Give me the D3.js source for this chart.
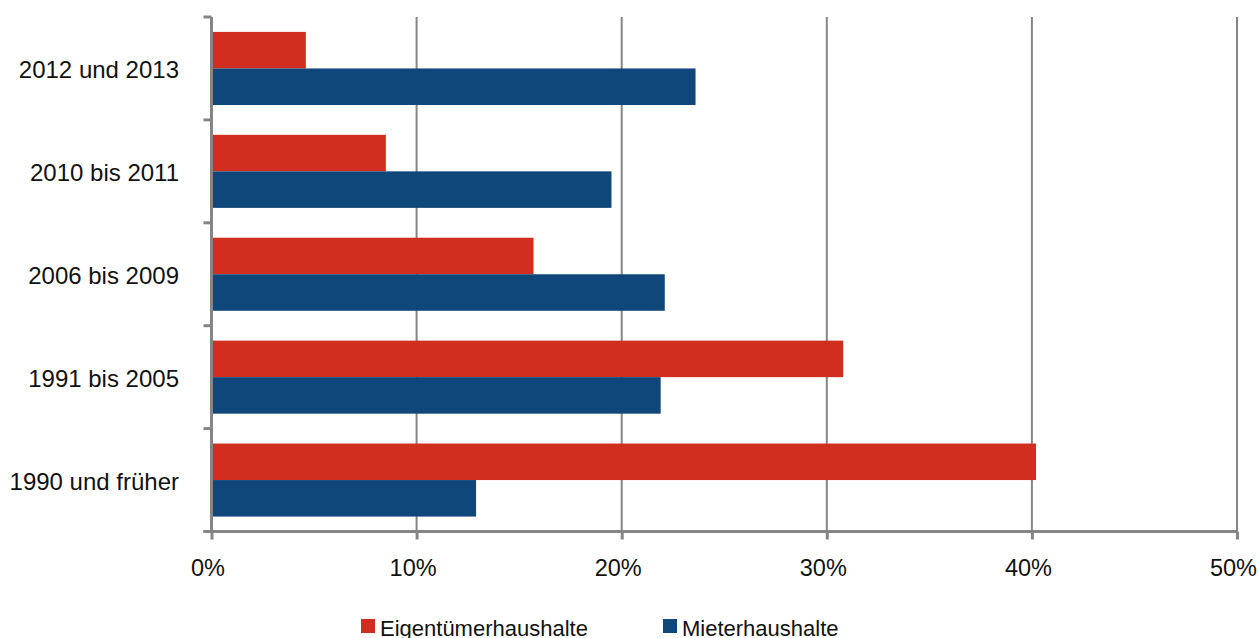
<!DOCTYPE html>
<html><head><meta charset="utf-8">
<script src="https://cdn.jsdelivr.net/npm/d3@7"></script>
<style>body{margin:0;background:#fff}svg{display:block}text{font-family:"Liberation Sans",Arial,sans-serif;fill:#111}</style>
</head><body>
<svg id="c" width="1259" height="638"></svg>
<script>
const categories = ["2012 und 2013","2010 bis 2011","2006 bis 2009","1991 bis 2005","1990 und früher"];
const seriesNames = ["Eigentümerhaushalte","Mieterhaushalte"];
const eigentuemer = [4.6, 8.5, 15.7, 30.8, 40.2];
const mieter = [23.6, 19.5, 22.1, 21.9, 12.9];
const xTicks = [0,10,20,30,40,50];
const colors = ["#D22E1F","#0F477B"];

const svg = d3.select("#c");
const L = 211.5, R = 1237, T = 17, B = 531.5;
const x = d3.scaleLinear().domain([0,50]).range([L,R]);
const y = d3.scaleBand().domain(categories).range([T,B]).paddingInner(0.29).paddingOuter(0.145);
const sub = d3.scaleBand().domain(seriesNames).range([0,y.bandwidth()]);
const grid = "#858585";

// gridlines
svg.append("g").selectAll("line").data(xTicks.slice(1)).join("line")
  .attr("x1",d=>x(d)).attr("x2",d=>x(d)).attr("y1",T).attr("y2",B)
  .attr("stroke",grid).attr("stroke-width",2);

// bars
const data = categories.map((c,i)=>({c, vals:[eigentuemer[i], mieter[i]]}));
const g = svg.append("g");
data.forEach(d=>{
  d.vals.forEach((v,j)=>{
    g.append("rect").attr("x",x(0)).attr("y",y(d.c)+sub(seriesNames[j]))
     .attr("width",x(v)-x(0)).attr("height",sub.bandwidth()).attr("fill",colors[j]);
  });
});

// x axis
const xa = svg.append("g").attr("transform",`translate(0,${B})`)
  .call(d3.axisBottom(x).tickValues(xTicks).tickFormat(d=>d+"%").tickSize(8).tickSizeOuter(0).tickPadding(20));
xa.select(".domain").attr("stroke",grid).attr("stroke-width",3).attr("d",`M${L-8},0H${R}`);
xa.selectAll(".tick line").attr("stroke",grid).attr("stroke-width",3);
xa.selectAll("text").attr("font-size",23.5).attr("fill","#111").attr("dx",-4)
  .attr("font-family","Liberation Sans, Arial, sans-serif");

// y axis
const yEdges = d3.range(categories.length+1).map(i=>T+i*(B-T)/categories.length);
svg.append("line").attr("x1",L).attr("x2",L).attr("y1",T).attr("y2",B).attr("stroke",grid).attr("stroke-width",3);
svg.append("g").selectAll("line").data(yEdges).join("line")
  .attr("x1",L-8).attr("x2",L).attr("y1",d=>d).attr("y2",d=>d).attr("stroke",grid).attr("stroke-width",3);
svg.append("g").selectAll("text").data(categories).join("text")
  .attr("x",179).attr("y",d=>y(d)+y.bandwidth()/2+9.5).attr("text-anchor","end")
  .attr("font-size",24).text(d=>d);

// legend
const leg = [{n:seriesNames[0],x:361,c:colors[0]},{n:seriesNames[1],x:663,c:colors[1]}];
leg.forEach(l=>{
  svg.append("rect").attr("x",l.x).attr("y",619).attr("width",14).attr("height",14).attr("fill",l.c);
  svg.append("text").attr("x",l.x+19).attr("y",635.5).attr("font-size",22).text(l.n);
});
</script>
</body></html>
